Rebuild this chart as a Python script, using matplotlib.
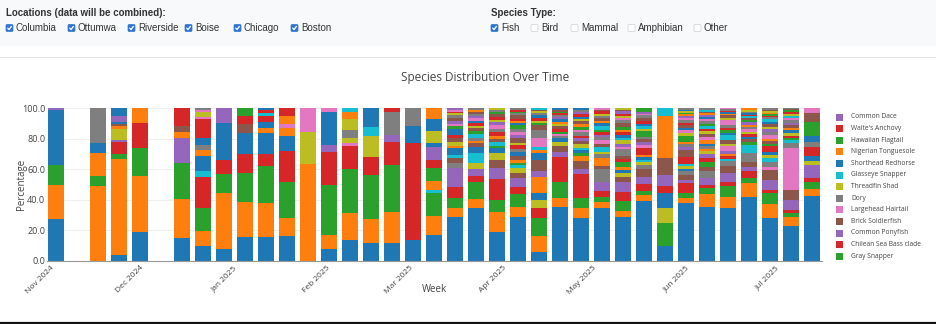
import matplotlib
matplotlib.use("Agg")
import matplotlib.pyplot as plt
import matplotlib.dates as mdates
import matplotlib.transforms as mtransforms
from matplotlib.patches import Rectangle, FancyBboxPatch
import datetime as dt

W, H = 936, 324

# ---------------- data ----------------
palette = {"b": "#1f77b4", "o": "#ff7f0e", "g": "#2ca02c", "r": "#d62728", "p": "#9467bd",
           "n": "#8c564b", "k": "#e377c2", "a": "#7f7f7f", "l": "#bcbd22", "c": "#17becf"}

weeks = ["2024-11-03", "2024-11-17", "2024-11-24", "2024-12-01", "2024-12-15", "2024-12-22",
         "2024-12-29", "2025-01-05", "2025-01-12", "2025-01-19", "2025-01-26", "2025-02-02",
         "2025-02-09", "2025-02-16", "2025-02-23", "2025-03-02", "2025-03-09", "2025-03-16",
         "2025-03-23", "2025-03-30", "2025-04-06", "2025-04-13", "2025-04-20", "2025-04-27",
         "2025-05-04", "2025-05-11", "2025-05-18", "2025-05-25", "2025-06-01", "2025-06-08",
         "2025-06-15", "2025-06-22", "2025-06-29", "2025-07-06", "2025-07-13"]

# segment colours (bottom -> top) per week, one letter per segment
stack_colors = [
    "bogbp",
    "ogoba",
    "bogrplonbpb",
    "bogro",
    "bogponr",
    "bogrcboabrklka",
    "bogrbp",
    "bogrbnrg",
    "bogrbobrcrb",
    "bogrbokor",
    "olk",
    "bogrpbk",
    "bogrklaloc",
    "bogrlcb",
    "bogrpar",
    "brba",
    "bogcogrpblbo",
    "bogrpan" + "cbolnrbgkpnalrkp",
    "bogrplcb" + "noacgnlrbkpanoa",
    "bogrpnl" + "bgcnorakplrngal",
    "bogrpnl" + "cgonbarlnpkagbornagra",
    "bogrlbopnbockanglrbalnc",
    "bogrpnl" + "bakgrnlobpargnb",
    "bogrpno" + "gbclnprakgonlbrpab",
    "bogrpano" + "alcnkaprgcbonalrnk",
    "bogrpn" + "lbogrnakplcbrognaklrpnl",
    "bogrpn" + "alcborkpnaglcbrnakpg",
    "bglbrpnoc",
    "bogrp" + "nablcrnpaoglkbnrakpoglba",
    "bogrp" + "angrploaboknlrcgakbponca",
    "bogrpn" + "acropklncbgraklnobrak",
    "bogrpnac" + "gnbrlkaopgncrbalo",
    "bogrpn" + "kaclbrgnokaplnbcargolna",
    "bogrpnka" + "cgrlbonpakclrgna",
    "bogrplbrabgnk",
]

stack_values = [
    [27.6, 22.4, 12.7, 36.3, 1.0],
    [49.0, 6.5, 14.9, 7.0, 22.6],
    [3.7, 63.0, 3.3, 8.0, 1.2, 7.0, 2.2, 0.9, 1.5, 3.8, 5.4],
    [18.9, 36.6, 18.2, 16.3, 10.0],
    [14.8, 25.7, 23.3, 16.4, 3.9, 4.1, 11.8],
    [9.8, 9.8, 14.8, 20.7, 3.7, 10.0, 3.7, 3.3, 4.4, 12.6, 1.5, 2.9, 1.5, 1.3],
    [7.8, 36.4, 12.4, 9.4, 24.0, 10.0],
    [15.5, 23.3, 18.5, 12.6, 13.5, 6.1, 5.5, 5.0],
    [15.9, 22.2, 24.2, 7.4, 13.7, 3.3, 3.9, 4.2, 1.7, 2.2, 1.3],
    [16.3, 11.6, 24.0, 20.2, 9.6, 5.0, 2.6, 5.7, 5.0],
    [63.2, 20.9, 15.9],
    [7.8, 9.2, 32.7, 21.3, 4.8, 21.8, 2.4],
    [13.7, 17.5, 28.7, 15.3, 2.1, 3.3, 5.0, 7.0, 5.0, 2.4],
    [11.5, 15.7, 29.0, 12.0, 13.7, 5.9, 12.2],
    [12.0, 20.2, 30.5, 15.3, 4.4, 14.8, 2.8],
    [13.7, 63.2, 11.6, 11.5],
    [17.0, 12.6, 14.6, 2.2, 5.9, 8.3, 5.4, 8.7, 2.2, 8.1, 7.6, 7.4],
    [28.5, 6.4, 6.5, 6.7, 12.5, 3.2, 3.3,
     2.0, 4.5, 1.5, 2.5, 3.0, 2.0, 4.0, 1.5, 1.5, 2.0, 2.0, 1.5, 1.5, 1.0, 1.0, 1.4],
    [34.9, 5.4, 11.6, 3.7, 4.5, 3.7, 6.6, 4.3,
     2.5, 1.5, 2.0, 2.5, 1.5, 2.0, 1.5, 2.0, 1.5, 1.5, 1.5, 1.5, 1.3, 1.0, 1.5],
    [19.2, 13.0, 7.7, 13.5, 7.2, 5.4, 4.4,
     3.5, 1.5, 2.5, 2.0, 1.5, 3.0, 2.0, 2.5, 2.0, 1.5, 2.0, 1.5, 1.5, 1.5, 1.1],
    [29.0, 6.5, 8.1, 4.5, 5.9, 3.3, 3.3,
     2.0, 1.5, 2.0, 2.5, 2.5, 2.0, 2.5, 1.5, 3.5, 2.0, 1.5, 2.5, 2.0, 1.5, 1.5, 1.5, 2.0, 1.5, 1.0, 1.0, 1.4],
    [6.1, 10.2, 11.6, 6.5, 5.5, 4.3, 10.9, 3.9, 7.0, 4.4, 2.0, 2.0, 5.8, 5.5, 3.0, 1.5, 1.5, 2.0,
     1.5, 1.5, 1.3, 1.0, 1.0],
    [35.1, 6.1, 10.7, 16.3, 3.3, 3.9, 2.2,
     2.5, 1.5, 1.5, 1.5, 1.5, 2.0, 1.5, 1.5, 1.5, 1.5, 1.5, 1.0, 1.0, 1.0, 1.4],
    [27.9, 6.5, 6.6, 15.9, 3.2, 5.5, 3.3,
     1.5, 2.0, 1.5, 2.5, 2.0, 2.0, 1.5, 2.5, 1.5, 1.5, 2.0, 2.0, 1.5, 1.5, 1.5, 1.5, 1.0, 1.6],
    [34.4, 3.9, 3.3, 4.4, 5.4, 8.6, 2.0, 5.4,
     2.5, 1.5, 3.0, 2.0, 2.5, 2.0, 1.5, 2.0, 1.5, 2.5, 1.5, 1.5, 2.0, 1.5, 1.5, 1.5, 1.0, 1.1],
    [28.5, 4.4, 6.5, 5.9, 6.1, 3.5,
     2.5, 2.0, 2.0, 3.0, 2.5, 2.0, 4.0, 1.5, 2.0, 2.5, 1.5, 2.0, 2.0, 1.5, 2.0, 2.0, 2.0, 1.5, 1.5, 1.5, 1.5, 1.0, 1.1],
    [39.4, 3.7, 2.9, 4.3, 4.4, 5.4,
     2.5, 2.0, 1.5, 2.0, 1.5, 4.0, 2.0, 2.0, 2.0, 1.5, 4.0, 1.5, 1.5, 1.5, 2.0, 2.0, 1.5, 1.0, 1.0, 2.9],
    [9.8, 14.8, 10.3, 9.3, 4.8, 7.2, 11.3, 27.5, 5.0],
    [37.7, 3.3, 3.2, 6.6, 2.2,
     3.0, 2.5, 1.5, 2.0, 1.5, 4.5, 4.5, 2.0, 2.0, 1.5, 4.0, 1.5, 2.0, 1.5, 2.0, 1.5, 1.5, 1.5, 1.5, 1.0, 1.0, 1.0, 1.0, 1.0],
    [35.5, 8.3, 3.7, 2.2, 4.4,
     5.0, 2.5, 3.0, 2.6, 2.5, 2.0, 1.5, 2.0, 1.5, 2.5, 2.0, 1.5, 2.0, 1.5, 2.0, 1.5, 1.5, 1.5, 1.5, 1.5, 1.0, 1.0, 1.0, 1.3],
    [34.9, 7.1, 7.0, 2.8, 5.5, 4.8,
     3.0, 1.5, 2.0, 1.5, 2.0, 3.0, 1.5, 2.5, 3.0, 1.5, 2.0, 1.5, 2.0, 3.0, 1.5, 1.5, 1.0, 1.0, 1.0, 1.0, 0.9],
    [41.6, 9.2, 3.2, 4.8, 2.8, 3.3, 5.4, 5.4,
     2.0, 2.0, 1.5, 1.5, 1.5, 2.0, 1.5, 1.5, 1.5, 1.5, 1.5, 1.0, 1.0, 1.0, 1.0, 1.0, 1.3],
    [27.9, 9.4, 6.9, 2.2, 6.5, 6.6,
     2.0, 3.5, 2.5, 1.5, 2.0, 4.0, 1.5, 2.0, 1.5, 2.5, 2.0, 1.5, 1.5, 2.0, 1.5, 1.5, 1.5, 1.0, 1.0, 1.0, 1.0, 1.0, 1.0],
    [23.1, 5.4, 3.1, 1.7, 6.6, 6.5, 27.7, 2.8,
     2.0, 1.5, 1.5, 2.0, 1.5, 1.5, 2.0, 1.5, 1.5, 1.5, 1.5, 1.5, 1.0, 1.0, 1.0, 0.6],
    [42.5, 4.6, 4.3, 2.6, 8.7, 2.9, 3.1, 6.0, 3.3, 3.7, 8.9, 6.4, 3.0],
]

legend_names = ["Common Dace", "Waite's Anchovy", "Hawaiian Flagtail", "Nigerian Tonguesole",
                "Shorthead Redhorse", "Glasseye Snapper", "Threadfin Shad", "Dory",
                "Largehead Hairtail", "Brick Soldierfish", "Common Ponyfish",
                "Chilean Sea Bass clade", "Gray Snapper"]
legend_colors = "prgobclaknprg"

locations = ["Columbia", "Ottumwa", "Riverside", "Boise", "Chicago", "Boston"]
location_x = [6, 68, 128, 185, 234, 291]
species_types = ["Fish", "Bird", "Mammal", "Amphibian", "Other"]
species_x = [491, 531, 571, 628, 694]
species_checked = [True, False, False, False, False]

month_ticks = ["2024-11-01", "2024-12-01", "2025-01-01", "2025-02-01", "2025-03-01",
               "2025-04-01", "2025-05-01", "2025-06-01", "2025-07-01"]
month_labels = ["Nov 2024", "Dec 2024", "Jan 2025", "Feb 2025", "Mar 2025",
                "Apr 2025", "May 2025", "Jun 2025", "Jul 2025"]
y_ticks = [0, 20, 40, 60, 80, 100]

# ---------------- figure ----------------
CHART_FONT = ["Open Sans", "DejaVu Sans"]
UI_FONT = ["Liberation Sans", "DejaVu Sans"]

fig = plt.figure(figsize=(W / 100, H / 100), dpi=100)
fig.patch.set_facecolor("white")

ov = fig.add_axes([0, 0, 1, 1])
ov.set_xlim(0, W)
ov.set_ylim(H, 0)
ov.axis("off")

# header panel
ov.add_patch(Rectangle((0, 0), W, 46, facecolor="#f8f9fa", edgecolor="none"))
ov.plot([0, W], [57, 57], color="#e3e3e3", lw=0.8)
ov.plot([0, W], [323, 323], color="#111111", lw=1.6)

ov.text(6, 13, "Locations (data will be combined):", fontsize=7, fontweight="bold",
        color="#333333", va="center", ha="left", family=UI_FONT)
ov.text(491, 13, "Species Type:", fontsize=7, fontweight="bold",
        color="#333333", va="center", ha="left", family=UI_FONT)


def checkbox(x, y, checked, label):
    s = 7
    if checked:
        ov.add_patch(FancyBboxPatch((x, y - s / 2), s, s, boxstyle="round,pad=0,rounding_size=1.2",
                                    facecolor="#2f74d0", edgecolor="#2f74d0", lw=0.5))
        ov.plot([x + 1.7, x + 3.0, x + 5.4], [y + 0.1, y + 1.6, y - 1.6], color="white", lw=0.9,
                solid_capstyle="round")
    else:
        ov.add_patch(FancyBboxPatch((x, y - s / 2), s, s, boxstyle="round,pad=0,rounding_size=1.2",
                                    facecolor="white", edgecolor="#d0d0d0", lw=0.5))
    ov.text(x + 10, y, label, fontsize=7, color="#333333", va="center", ha="left", family=UI_FONT)


for name, x in zip(locations, location_x):
    checkbox(x, 28, True, name)
for name, x, chk in zip(species_types, species_x, species_checked):
    checkbox(x, 28, chk, name)

# title and axis titles
ov.text(485, 78, "Species Distribution Over Time", fontsize=8.5, color="#444444",
        ha="center", va="center", family=CHART_FONT)
ov.text(434, 290, "Week", fontsize=7, color="#444444", ha="center", va="center", family=CHART_FONT)
ov.text(21, 184, "Percentage", fontsize=7, color="#444444", ha="center", va="center",
        rotation=90, family=CHART_FONT)

# legend
for i, (name, c) in enumerate(zip(legend_names, legend_colors)):
    y = 117 + 11.6 * i
    ov.add_patch(Rectangle((836, y - 3.5), 7, 7, facecolor=palette[c], edgecolor="none"))
    ov.text(851, y, name, fontsize=4.8, color="#444444", ha="left", va="center", family=CHART_FONT)

# main axes
top_px = 100
ax = fig.add_axes([47 / W, (H - 261) / H, (822 - 47) / W, (261 - top_px) / H])
ax.set_facecolor("white")

dates = [mdates.date2num(dt.date.fromisoformat(d)) for d in weeks]
for x, cols, vals in zip(dates, stack_colors, stack_values):
    assert len(cols) == len(vals), (cols, len(cols), len(vals))
    total = sum(vals)
    bottom = 0.0
    for c, v in zip(cols, vals):
        h = v * 100.0 / total
        ax.bar(x, h, bottom=bottom, width=5.6, color=palette[c], linewidth=0, zorder=2)
        bottom += h

x0 = dates[0] - 3.0
ax.set_xlim(x0, x0 + 775 / 3.0)
ax.set_ylim(0, 100 * 161 / 153)

for s in ["top", "right", "left"]:
    ax.spines[s].set_visible(False)
ax.spines["bottom"].set_color("#999999")
ax.spines["bottom"].set_linewidth(0.8)

ax.set_yticks(y_ticks)
ax.set_yticklabels([f"{v:.1f}" for v in y_ticks], fontsize=6.5, color="#444444", family=CHART_FONT)
ax.yaxis.grid(True, color="#eeeeee", lw=0.7, zorder=0)
ax.set_axisbelow(True)

mt = [mdates.date2num(dt.date.fromisoformat(d)) for d in month_ticks]
ax.set_xticks(mt)
ax.set_xticklabels(month_labels, rotation=45, ha="right", rotation_mode="anchor",
                   fontsize=6.0, color="#444444", family=CHART_FONT)
shift = mtransforms.ScaledTranslation(-3 / 100, 0, fig.dpi_scale_trans)
for lab in ax.get_xticklabels():
    lab.set_transform(lab.get_transform() + shift)
ax.tick_params(axis="both", length=0)
ax.tick_params(axis="y", pad=1.2)
ax.tick_params(axis="x", pad=2.5)

fig.savefig("out.png", dpi=100, facecolor="white")
